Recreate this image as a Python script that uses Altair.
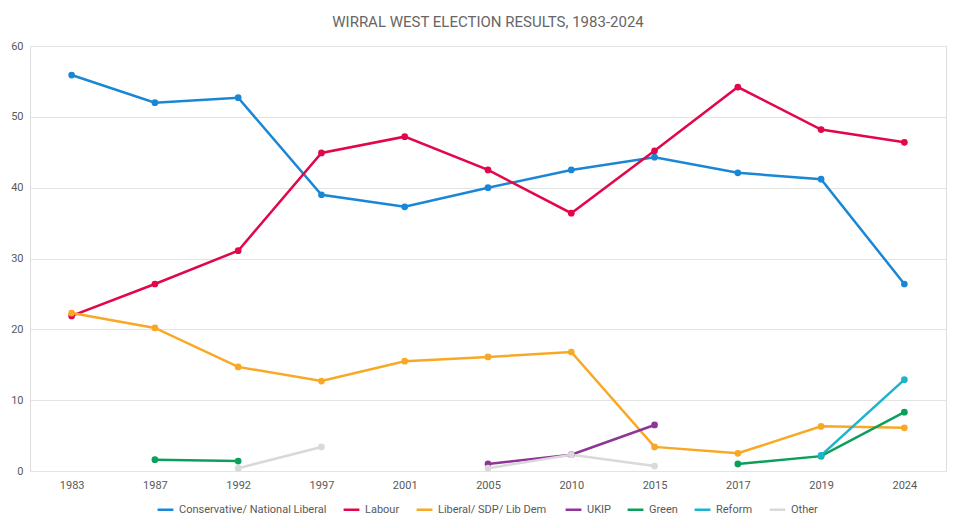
import altair as alt
import pandas as pd

years = ["1983", "1987", "1992", "1997", "2001", "2005", "2010", "2015", "2017", "2019", "2024"]
parties = [
    "Conservative/ National Liberal",
    "Labour",
    "Liberal/ SDP/ Lib  Dem",
    "UKIP",
    "Green",
    "Reform",
    "Other",
]
colors = ["#1A87D6", "#E2064A", "#F9A825", "#8E3597", "#0A9F5A", "#1AB4CD", "#D9D9D9"]

conservative = [55.9, 52.0, 52.7, 39.0, 37.3, 40.0, 42.5, 44.3, 42.1, 41.2, 26.4]
labour = [21.9, 26.4, 31.1, 44.9, 47.2, 42.5, 36.4, 45.2, 54.2, 48.2, 46.4]
libdem = [22.3, 20.2, 14.7, 12.7, 15.5, 16.1, 16.8, 3.4, 2.5, 6.3, 6.1]
ukip = [None, None, None, None, None, 1.0, 2.3, 6.5, None, None, None]
green = [None, 1.6, 1.4, None, None, None, None, None, 1.0, 2.1, 8.3]
reform = [None, None, None, None, None, None, None, None, None, 2.2, 12.9]
other = [None, None, 0.4, 3.4, None, 0.4, 2.3, 0.7, None, None, None]

series = [conservative, labour, libdem, ukip, green, reform, other]

# long format; a gap in a series starts a new segment so lines don't bridge it
rows = []
for party, values in zip(parties, series):
    seg = 0
    prev = None
    for year, v in zip(years, values):
        if v is None:
            if prev is not None:
                seg += 1
            prev = None
            continue
        rows.append({"party": party, "year": year, "value": v, "seg": f"{party}-{seg}"})
        prev = v
df = pd.DataFrame(rows)

FONT = "Roboto"
GREY = "#595959"

color = alt.Color(
    "party:N",
    scale=alt.Scale(domain=parties, range=colors),
    legend=alt.Legend(
        title=None,
        orient="none",
        legendX=126,
        legendY=454,
        direction="horizontal",
        columns=7,
        symbolType="stroke",
        symbolStrokeWidth=2.5,
        symbolSize=250,
        labelFontSize=11,
        labelColor=GREY,
        columnPadding=11,
    ),
)

x = alt.X(
    "year:O",
    sort=years,
    title=None,
    scale=alt.Scale(domain=years, paddingOuter=0.5),
    axis=alt.Axis(labelAngle=0, ticks=False, domain=False, labelColor=GREY,
                  labelFontSize=11, labelPadding=8),
)
y = alt.Y(
    "value:Q",
    title=None,
    scale=alt.Scale(domain=[0, 60]),
    axis=alt.Axis(values=[0, 10, 20, 30, 40, 50, 60], ticks=False, domain=False,
                  labelColor=GREY, labelFontSize=11, labelPadding=7,
                  gridColor="#E3E3E3"),
)

base = alt.Chart(df).encode(x=x, y=y, color=color, detail="seg:N")
lines = base.mark_line(strokeWidth=2.5)
points = base.mark_point(filled=True, size=45, opacity=1)

chart = (
    (lines + points)
    .properties(
        width=916,
        height=425,
        padding={"left": 22, "right": 6, "top": 38, "bottom": 49},
        autosize=alt.AutoSizeParams(type="none"),
        title=alt.Title(
            "WIRRAL WEST ELECTION RESULTS, 1983-2024",
            anchor="middle",
            fontSize=15,
            fontWeight="normal",
            color="#666666",
            font=FONT,
            offset=10,
        ),
    )
    .configure_view(stroke=None)
    .configure(font=FONT)
)

chart.save("out.html", embed_options={"renderer": "svg", "actions": False})
